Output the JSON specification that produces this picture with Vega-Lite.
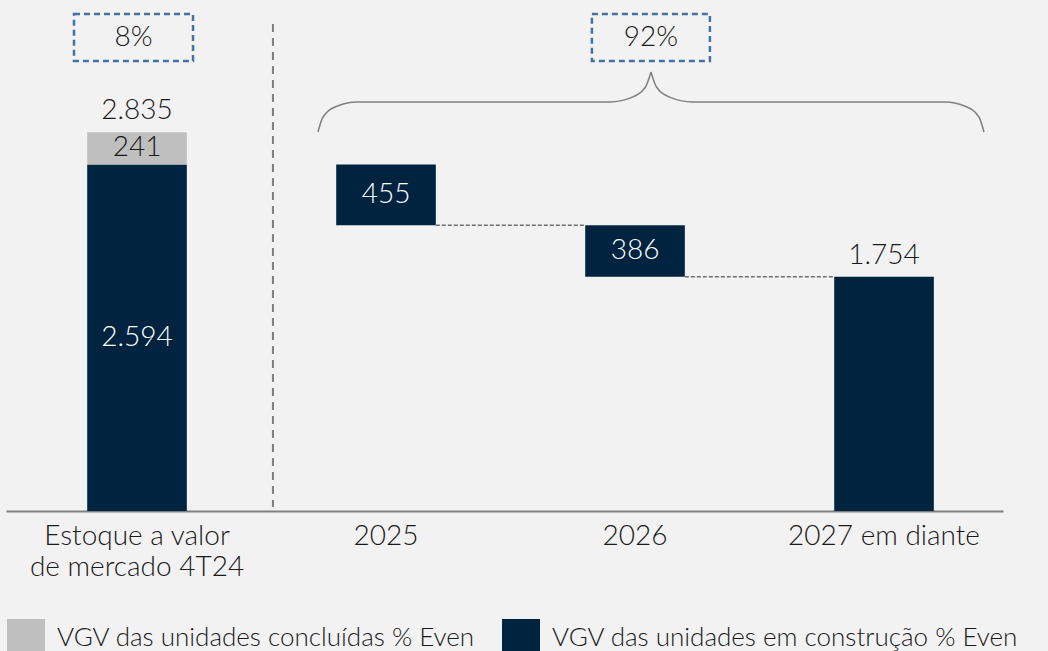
{
  "$schema": "https://vega.github.io/schema/vega-lite/v6.json",
  "width": 997,
  "height": 511,
  "autosize": "none",
  "padding": {"left": 6, "top": 0, "right": 45, "bottom": 140},
  "background": "#f2f2f2",
  "config": {
    "view": {"stroke": null},
    "font": "Lato",
    "locale": {"number": {"decimal": ",", "thousands": ".", "grouping": [3], "currency": ["R$ ", ""]}}
  },
  "datasets": {
    "barras": [
      {"cat": "Estoque a valor de mercado 4T24", "tipo": "VGV das unidades em construção % Even", "inicio": 0, "fim": 2594, "valor": 2594},
      {"cat": "Estoque a valor de mercado 4T24", "tipo": "VGV das unidades concluídas % Even", "inicio": 2594, "fim": 2835, "valor": 241},
      {"cat": "2025", "tipo": "VGV das unidades em construção % Even", "inicio": 2139, "fim": 2594, "valor": 455},
      {"cat": "2026", "tipo": "VGV das unidades em construção % Even", "inicio": 1754, "fim": 2139, "valor": 386},
      {"cat": "2027 em diante", "tipo": "VGV das unidades em construção % Even", "inicio": 0, "fim": 1754, "valor": 1754}
    ],
    "totais": [
      {"cat": "Estoque a valor de mercado 4T24", "total": 2835},
      {"cat": "2027 em diante", "total": 1754}
    ],
    "conectores": [
      {"de": "2025", "para": "2026", "nivel": 2139},
      {"de": "2026", "para": "2027 em diante", "nivel": 1754}
    ],
    "divisor": [
      {"posicao": 1.046, "topo": 3645, "base": 30}
    ],
    "caixas": [
      {"ini": 0.247, "fim": 0.725, "topo": 3720, "base": 3369, "centro": 0.486, "meio": 3541, "texto": "8%"},
      {"ini": 2.327, "fim": 2.801, "topo": 3720, "base": 3369, "centro": 2.564, "meio": 3541, "texto": "92%"}
    ],
    "chave": [
      {"lado": "E", "px": 1.2269, "py": 2837},
      {"lado": "E", "px": 1.2470, "py": 2949},
      {"lado": "E", "px": 1.3052, "py": 3032},
      {"lado": "E", "px": 1.3835, "py": 3062},
      {"lado": "E", "px": 2.3996, "py": 3062},
      {"lado": "E", "px": 2.4819, "py": 3092},
      {"lado": "E", "px": 2.5422, "py": 3174},
      {"lado": "E", "px": 2.5643, "py": 3286},
      {"lado": "D", "px": 2.5643, "py": 3286},
      {"lado": "D", "px": 2.5863, "py": 3174},
      {"lado": "D", "px": 2.6466, "py": 3092},
      {"lado": "D", "px": 2.7289, "py": 3062},
      {"lado": "D", "px": 3.7450, "py": 3062},
      {"lado": "D", "px": 3.8233, "py": 3032},
      {"lado": "D", "px": 3.8815, "py": 2949},
      {"lado": "D", "px": 3.9016, "py": 2837}
    ]
  },
  "layer": [
    {
      "layer": [
        {
          "data": {"name": "barras"},
          "mark": {"type": "bar"},
          "encoding": {
            "x": {"field": "cat", "type": "nominal", "sort": null,
              "scale": {"type": "band", "domain": ["Estoque a valor de mercado 4T24", "2025", "2026", "2027 em diante"], "paddingInner": 0.6, "paddingOuter": 0.302, "align": 0.54},
              "axis": {"title": null, "domainColor": "#7f7f7f", "domainWidth": 2, "ticks": false, "labelFontSize": 28, "labelFontWeight": 300, "labelColor": "#1a1a1a", "labelPadding": 11, "labelAngle": 0, "labelLineHeight": 31, "labelLimit": 400,
                "labelExpr": "datum.value == 'Estoque a valor de mercado 4T24' ? ['Estoque a valor', 'de mercado 4T24'] : datum.label"}},
            "y": {"field": "inicio", "type": "quantitative", "scale": {"domain": [0, 3825], "nice": false, "zero": false}, "axis": null},
            "y2": {"field": "fim"},
            "color": {"field": "tipo", "type": "nominal",
              "scale": {"domain": ["VGV das unidades concluídas % Even", "VGV das unidades em construção % Even"], "range": ["#bfbfbf", "#00233f"]},
              "legend": {"title": null, "orient": "none", "direction": "horizontal", "legendX": 1, "legendY": 619, "padding": 0,
                "symbolType": "square", "symbolSize": 1444, "symbolStrokeWidth": 0, "labelFontSize": 26, "labelFontWeight": 300, "labelColor": "#1a1a1a", "labelOffset": 12, "labelLimit": 600, "columnPadding": 26}}
          }
        },
        {
          "data": {"name": "barras"},
          "transform": [
            {"filter": "datum.cat != '2027 em diante'"},
            {"calculate": "(datum.inicio + datum.fim) / 2", "as": "meio"}
          ],
          "mark": {"type": "text", "fontSize": 28, "fontWeight": 300, "baseline": "middle", "align": "center"},
          "encoding": {
            "x": {"field": "cat", "type": "nominal", "sort": null,
              "scale": {"type": "band", "domain": ["Estoque a valor de mercado 4T24", "2025", "2026", "2027 em diante"], "paddingInner": 0.6, "paddingOuter": 0.302, "align": 0.54}},
            "y": {"field": "meio", "type": "quantitative", "scale": {"domain": [0, 3825], "nice": false, "zero": false}, "axis": null},
            "text": {"field": "valor", "type": "quantitative", "format": ","},
            "color": {"condition": {"test": "datum.tipo == 'VGV das unidades concluídas % Even'", "value": "#1a1a1a"}, "value": "#ffffff"}
          }
        },
        {
          "data": {"name": "totais"},
          "mark": {"type": "text", "fontSize": 28, "fontWeight": 300, "baseline": "alphabetic", "align": "center", "dy": -13, "color": "#1a1a1a"},
          "encoding": {
            "x": {"field": "cat", "type": "nominal", "sort": null,
              "scale": {"type": "band", "domain": ["Estoque a valor de mercado 4T24", "2025", "2026", "2027 em diante"], "paddingInner": 0.6, "paddingOuter": 0.302, "align": 0.54}},
            "y": {"field": "total", "type": "quantitative", "scale": {"domain": [0, 3825], "nice": false, "zero": false}, "axis": null},
            "text": {"field": "total", "type": "quantitative", "format": ","}
          }
        },
        {
          "data": {"name": "conectores"},
          "mark": {"type": "rule", "color": "#6f6f6f", "strokeWidth": 1.5, "strokeDash": [4, 2]},
          "encoding": {
            "x": {"field": "de", "type": "nominal", "bandPosition": 1,
              "scale": {"type": "band", "domain": ["Estoque a valor de mercado 4T24", "2025", "2026", "2027 em diante"], "paddingInner": 0.6, "paddingOuter": 0.302, "align": 0.54}},
            "x2": {"field": "para", "bandPosition": 0},
            "y": {"field": "nivel", "type": "quantitative", "scale": {"domain": [0, 3825], "nice": false, "zero": false}, "axis": null}
          }
        }
      ]
    },
    {
      "layer": [
        {
          "data": {"name": "divisor"},
          "mark": {"type": "rule", "color": "#7f7f7f", "strokeWidth": 2, "strokeDash": [8, 6]},
          "encoding": {
            "x": {"field": "posicao", "type": "quantitative", "scale": {"domain": [-0.0261, 3.978], "nice": false, "zero": false}, "axis": null},
            "y": {"field": "topo", "type": "quantitative", "scale": {"domain": [0, 3825], "nice": false, "zero": false}, "axis": null},
            "y2": {"field": "base"}
          }
        },
        {
          "data": {"name": "caixas"},
          "mark": {"type": "rect", "filled": false, "stroke": "#4472a4", "strokeWidth": 2.5, "strokeDash": [6, 4]},
          "encoding": {
            "x": {"field": "ini", "type": "quantitative", "scale": {"domain": [-0.0261, 3.978], "nice": false, "zero": false}, "axis": null},
            "x2": {"field": "fim"},
            "y": {"field": "topo", "type": "quantitative", "scale": {"domain": [0, 3825], "nice": false, "zero": false}, "axis": null},
            "y2": {"field": "base"}
          }
        },
        {
          "data": {"name": "caixas"},
          "mark": {"type": "text", "fontSize": 28, "fontWeight": 300, "baseline": "middle", "align": "center", "color": "#1a1a1a"},
          "encoding": {
            "x": {"field": "centro", "type": "quantitative", "scale": {"domain": [-0.0261, 3.978], "nice": false, "zero": false}, "axis": null},
            "y": {"field": "meio", "type": "quantitative", "scale": {"domain": [0, 3825], "nice": false, "zero": false}, "axis": null},
            "text": {"field": "texto", "type": "nominal"}
          }
        },
        {
          "data": {"name": "chave"},
          "mark": {"type": "line", "color": "#808080", "strokeWidth": 1.5, "interpolate": "monotone"},
          "encoding": {
            "x": {"field": "px", "type": "quantitative", "scale": {"domain": [-0.0261, 3.978], "nice": false, "zero": false}, "axis": null},
            "y": {"field": "py", "type": "quantitative", "scale": {"domain": [0, 3825], "nice": false, "zero": false}, "axis": null},
            "detail": {"field": "lado", "type": "nominal"}
          }
        }
      ]
    }
  ],
  "resolve": {"scale": {"x": "independent"}}
}
